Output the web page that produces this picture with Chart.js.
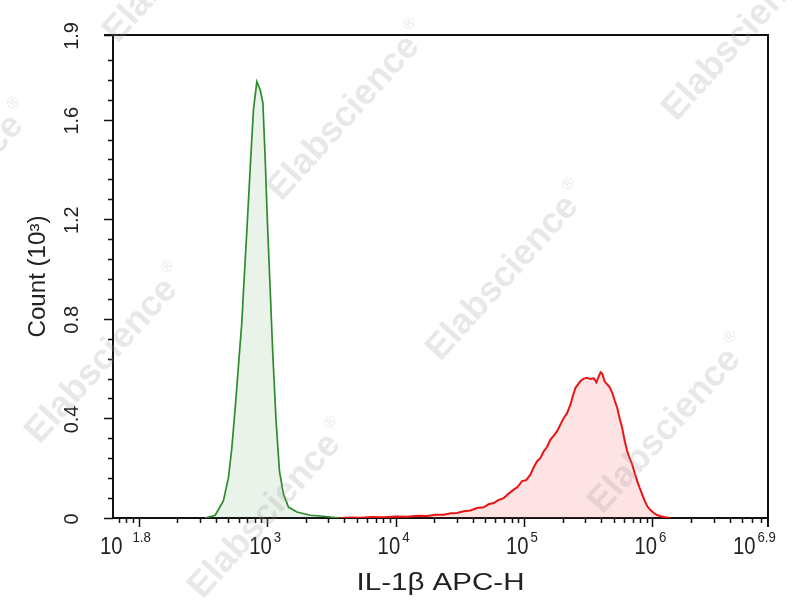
<!DOCTYPE html>
<html>
<head>
<meta charset="utf-8">
<script src="https://cdn.jsdelivr.net/npm/chart.js@4.4.1/dist/chart.umd.min.js"></script>
<style>
  html, body { margin: 0; padding: 0; background: #fff; }
  canvas { display: block; }
</style>
</head>
<body>
<canvas id="histo" width="804" height="600"></canvas>
<script>
// green histogram (control), channel value vs count in thousands
const controlX = [329, 394, 457, 500, 531, 564, 598, 635, 655, 695, 738, 783, 832, 883, 927, 966,
    1007, 1057, 1109, 1175, 1247, 1340, 1466, 1706, 2163, 2600, 3097, 3707];
const controlCount = [0, 0.011, 0.07, 0.162, 0.281, 0.44, 0.611, 0.783, 0.915, 1.152, 1.403, 1.641, 1.753, 1.72, 1.667, 1.443,
    1.179, 0.915, 0.651, 0.387, 0.189, 0.096, 0.044, 0.024, 0.011, 0.008, 0.004, 0];

// red histogram (IL-1β stained)
const stainedX = [3707, 4500, 5310, 6500, 8070, 10000, 12280, 15000, 17580, 20500, 23660, 27000, 30120, 34000,
    38260, 43000, 48560, 53000, 58100, 63000, 69530, 76000, 83180, 89000, 96650, 104000, 112200, 118000,
    126500, 134000, 142600, 151000, 160700, 170000, 181200, 192000, 204200, 216000, 230300, 240000,
    251800, 262000, 275400, 292000, 310500, 330000, 349900, 366000, 382800, 395000, 406500, 425000,
    444700, 465000, 486500, 510000, 532000, 556000, 582000, 608000, 636700, 665000, 696500, 728000,
    762000, 797000, 833700, 870000, 912000, 965000, 1026000, 1090000, 1156000, 1260000, 1384000];
const stainedCount = [0, 0.002, 0.001, 0.004, 0.003, 0.006, 0.005, 0.009, 0.008, 0.013, 0.013, 0.019, 0.02, 0.027,
    0.03, 0.04, 0.043, 0.055, 0.06, 0.072, 0.08, 0.098, 0.114, 0.124, 0.148, 0.152, 0.174, 0.2,
    0.228, 0.24, 0.268, 0.285, 0.315, 0.33, 0.349, 0.375, 0.402, 0.42, 0.456, 0.49,
    0.523, 0.535, 0.55, 0.56, 0.563, 0.558, 0.561, 0.545, 0.57, 0.585, 0.58, 0.548,
    0.537, 0.525, 0.503, 0.47, 0.443, 0.4, 0.362, 0.31, 0.268, 0.24, 0.215, 0.18,
    0.148, 0.12, 0.094, 0.07, 0.047, 0.032, 0.02, 0.012, 0.007, 0.003, 0];

// axes
const xMinExp = 1.8;
const xMaxExp = 6.9;
const xMajorExps = [2, 3, 4, 5, 6];
const xLabelExps = [1.8, 3, 4, 5, 6, 6.9];
const xLabelTexts = ['1.8', '3', '4', '5', '6', '6.9'];
const yMax = 1.94;
const yLabelValues = [0, 0.4, 0.8, 1.2, 1.6, 1.94];
const yLabelTexts = ['0', '0.4', '0.8', '1.2', '1.6', '1.9'];
const yMinorStep = 0.08;
const xTitle = 'IL-1β APC-H';
const yTitle = 'Count (10³)';

const FONT = '"Liberation Sans", Arial, sans-serif';
const SQUEEZE = 0.88;

function toPoints(xs, ys) {
    return xs.map((x, i) => ({ x: x, y: ys[i] }));
}

// text squeezed/stretched to a given width, centred on (x, y)
function fillStretched(ctx, text, x, y, width) {
    const w = ctx.measureText(text).width;
    ctx.save();
    ctx.translate(x, y);
    ctx.scale(width / w, 1);
    ctx.textAlign = 'center';
    ctx.fillText(text, 0, 0);
    ctx.restore();
}

function powerParts(ctx, exp) {
    ctx.font = '23px ' + FONT;
    const wBase = ctx.measureText('10').width * SQUEEZE;
    ctx.font = '15px ' + FONT;
    const wExp = ctx.measureText(exp).width * SQUEEZE;
    return { wBase, wExp };
}

function drawPower(ctx, exp, left, baseline, gap) {
    const p = powerParts(ctx, exp);
    ctx.textAlign = 'left';
    ctx.save();
    ctx.translate(left, baseline);
    ctx.scale(SQUEEZE, 1);
    ctx.font = '23px ' + FONT;
    ctx.fillText('10', 0, 0);
    ctx.restore();
    ctx.save();
    ctx.translate(left + p.wBase + gap, baseline - 12);
    ctx.scale(SQUEEZE, 1);
    ctx.font = '15px ' + FONT;
    ctx.fillText(exp, 0, 0);
    ctx.restore();
}

const axisDecor = {
    id: 'axisDecor',
    afterDraw(chart) {
        const ctx = chart.ctx;
        const xs = chart.scales.x;
        const ys = chart.scales.y;
        const area = chart.chartArea;

        ctx.save();
        ctx.strokeStyle = '#111';
        ctx.fillStyle = '#222';

        // top and right frame
        ctx.lineWidth = 2;
        ctx.beginPath();
        ctx.moveTo(area.left - 9, area.top);
        ctx.lineTo(area.right, area.top);
        ctx.lineTo(area.right, area.bottom + 9);
        ctx.stroke();

        // x ticks
        ctx.lineWidth = 1.5;
        ctx.beginPath();
        for (const e of xMajorExps) {
            const px = Math.round(xs.getPixelForValue(Math.pow(10, e))) + 0.5;
            ctx.moveTo(px, area.bottom);
            ctx.lineTo(px, area.bottom + 9);
        }
        for (let n = 1; n <= 6; n++) {
            for (let m = 2; m <= 9; m++) {
                const v = m * Math.pow(10, n);
                if (v < Math.pow(10, xMinExp) || v > Math.pow(10, xMaxExp)) continue;
                const px = Math.round(xs.getPixelForValue(v)) + 0.5;
                ctx.moveTo(px, area.bottom);
                ctx.lineTo(px, area.bottom + 5);
            }
        }
        ctx.stroke();

        // y ticks
        ctx.beginPath();
        for (const v of yLabelValues) {
            const py = Math.round(ys.getPixelForValue(v)) + 0.5;
            ctx.moveTo(area.left, py);
            ctx.lineTo(area.left - 9, py);
        }
        for (let k = 1; k * yMinorStep < yMax - 0.03; k++) {
            if (k % 5 === 0) continue;
            const py = Math.round(ys.getPixelForValue(k * yMinorStep)) + 0.5;
            ctx.moveTo(area.left, py);
            ctx.lineTo(area.left - 5, py);
        }
        ctx.stroke();

        // x tick labels
        const baseline = area.bottom + 36;
        xLabelExps.forEach((e, i) => {
            const txt = xLabelTexts[i];
            if (i === 0) {
                drawPower(ctx, txt, area.left - 13, baseline, 10);
            } else if (i === xLabelExps.length - 1) {
                drawPower(ctx, txt, area.right - 35, baseline, 2);
            } else {
                const px = xs.getPixelForValue(Math.pow(10, e));
                const p = powerParts(ctx, txt);
                drawPower(ctx, txt, px - 2 - (p.wBase + 2 + p.wExp) / 2, baseline, 2);
            }
        });

        // y tick labels, rotated
        ctx.font = '21px ' + FONT;
        ctx.textAlign = 'center';
        yLabelValues.forEach((v, i) => {
            ctx.save();
            ctx.translate(area.left - 35, ys.getPixelForValue(v) + 1);
            ctx.rotate(-Math.PI / 2);
            ctx.scale(0.95, 1);
            ctx.fillText(yLabelTexts[i], 0, 0);
            ctx.restore();
        });

        // axis titles
        ctx.font = '24px ' + FONT;
        fillStretched(ctx, xTitle, (area.left + area.right) / 2, 590, 168);
        ctx.save();
        ctx.translate(45, (area.top + area.bottom) / 2);
        ctx.rotate(-Math.PI / 2);
        ctx.font = '23px ' + FONT;
        fillStretched(ctx, yTitle, 0, 0, 122);
        ctx.restore();

        ctx.restore();
    }
};

// faint diagonal "Elabscience" stamps over the picture
const watermark = {
    id: 'watermark',
    afterDraw(chart) {
        const ctx = chart.ctx;
        const spots = [[185, -46], [-47, 191], [349, 112], [744, 32], [107, 355], [508, 272], [270, 510], [670, 425]];
        ctx.save();
        ctx.fillStyle = 'rgba(150,150,150,0.22)';
        ctx.textBaseline = 'middle';
        for (const [cx, cy] of spots) {
            ctx.save();
            ctx.translate(cx, cy);
            ctx.rotate(-48 * Math.PI / 180);
            ctx.font = 'bold 36px ' + FONT;
            const w = ctx.measureText('Elabscience').width;
            ctx.textAlign = 'left';
            ctx.fillText('Elabscience', -w / 2 - 8, 0);
            ctx.font = '16px ' + FONT;
            ctx.fillText('®', w / 2 - 4, -14);
            ctx.restore();
        }
        ctx.restore();
    }
};

new Chart(document.getElementById('histo'), {
    type: 'line',
    data: {
        datasets: [
            {
                label: 'Control',
                data: toPoints(controlX, controlCount),
                borderColor: 'rgb(45,140,45)',
                backgroundColor: 'rgba(40,140,40,0.1)',
                borderWidth: 1.7,
                fill: 'origin'
            },
            {
                label: 'IL-1β',
                data: toPoints(stainedX, stainedCount),
                borderColor: 'rgb(235,20,20)',
                backgroundColor: 'rgba(240,60,60,0.14)',
                borderWidth: 2,
                fill: 'origin'
            }
        ]
    },
    options: {
        responsive: false,
        animation: false,
        events: [],
        layout: { padding: { left: 113, right: 36, top: 35, bottom: 82 } },
        elements: {
            point: { radius: 0 },
            line: { tension: 0 }
        },
        plugins: {
            legend: { display: false },
            tooltip: { enabled: false }
        },
        scales: {
            x: {
                type: 'logarithmic',
                min: Math.pow(10, xMinExp),
                max: Math.pow(10, xMaxExp),
                grid: { display: false, drawTicks: false },
                ticks: { display: false },
                border: { display: true, color: '#111', width: 2 }
            },
            y: {
                type: 'linear',
                min: 0,
                max: yMax,
                grid: { display: false, drawTicks: false },
                ticks: { display: false },
                border: { display: true, color: '#111', width: 2 }
            }
        }
    },
    plugins: [axisDecor, watermark]
});
</script>
</body>
</html>
